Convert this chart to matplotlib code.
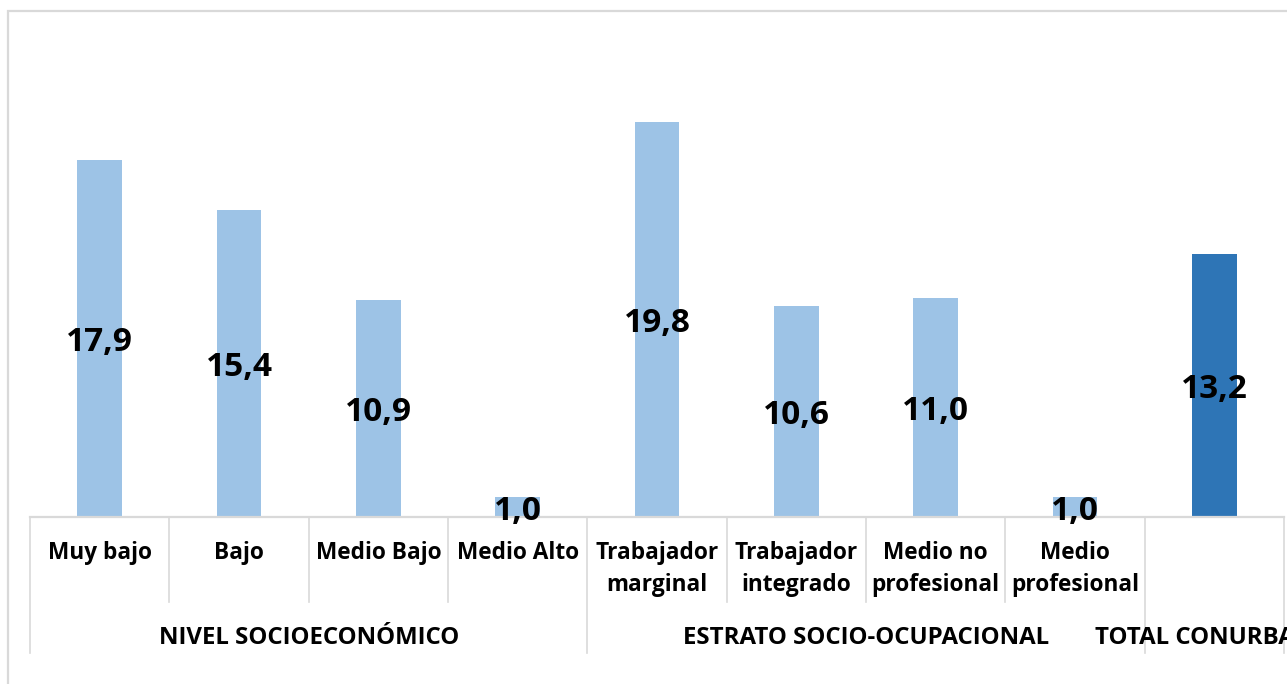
import matplotlib.pyplot as plt
from matplotlib.patches import Rectangle
from matplotlib.transforms import offset_copy

plt.rcParams['font.family'] = ['Open Sans', 'DejaVu Sans']

# categorias del eje y sus grupos
categorias = ['Muy bajo', 'Bajo', 'Medio Bajo', 'Medio Alto',
              'Trabajador\nmarginal', 'Trabajador\nintegrado',
              'Medio no\nprofesional', 'Medio\nprofesional', '']
valores = [17.9, 15.4, 10.9, 1.0, 19.8, 10.6, 11.0, 1.0, 13.2]
grupos = ['NIVEL SOCIOECONÓMICO', 'ESTRATO SOCIO-OCUPACIONAL', 'TOTAL CONURBANO']
grupo_inicio = [0, 4, 8]
grupo_fin = [3, 7, 8]

claro = '#9dc3e6'
oscuro = '#2e75b6'
gris = '#d9d9d9'

W, H = 1287, 684
fig = plt.figure(figsize=(W / 100, H / 100), dpi=100)

# borde del area del grafico
fig.patches.append(Rectangle((7.5 / W, -0.1), 1.2, 1 - 11 / H + 0.1,
                             transform=fig.transFigure, fill=False,
                             edgecolor=gris, linewidth=1.6))

base_px, top_px = 517, 18.25
ax = fig.add_axes([30 / W, 1 - base_px / H, (1284 - 30) / W, (base_px - top_px) / H])
ax.set_xlim(-0.5, len(valores) - 0.5)
ax.set_ylim(0, 25)
ax.axis('off')

x = list(range(len(valores)))
colores = [claro] * (len(valores) - 1) + [oscuro]
barras = ax.bar(x, valores, width=0.32, color=colores)

tr_etq = offset_copy(ax.transData, fig=fig, x=0, y=-4, units='dots')
for b, v in zip(barras, valores):
    ax.text(b.get_x() + b.get_width() / 2, v / 2, f'{v:.1f}'.replace('.', ','),
            transform=tr_etq, ha='center', va='center', fontsize=24,
            fontweight='bold', color='black')

# eje de categorias con separadores
tr = ax.get_xaxis_transform()
alto = base_px - top_px
y_cat = -(602 - base_px) / alto
y_grp = -(653 - base_px) / alto
ax.plot([-0.5, len(valores) - 0.5], [0, 0], color=gris, lw=1.6, transform=tr, clip_on=False)
for i in range(len(valores) + 1):
    borde = i - 0.5
    largo = y_grp if (i in grupo_inicio or i == len(valores)) else y_cat
    ax.plot([borde, borde], [0, largo], color=gris, lw=1.2, transform=tr, clip_on=False)

y_lab = -(541 - base_px) / alto
for i, c in enumerate(categorias):
    ax.text(i, y_lab, c, transform=tr, ha='center', va='top', fontsize=16.3,
            fontweight='bold', linespacing=1.45)

y_gtxt = -(638 - base_px) / alto
for g, a, b in zip(grupos, grupo_inicio, grupo_fin):
    ax.text((a + b) / 2, y_gtxt, g, transform=tr, ha='center', va='center',
            fontsize=17.3, fontweight='bold')

fig.savefig('out.png', dpi=100)
